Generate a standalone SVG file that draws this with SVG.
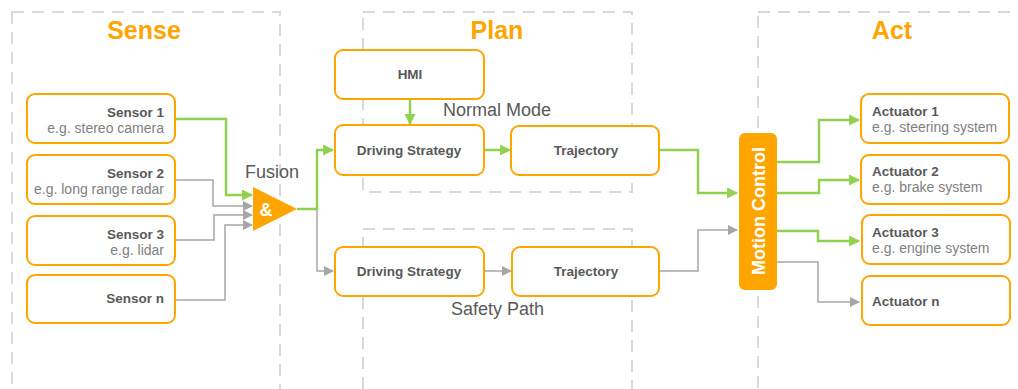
<svg xmlns="http://www.w3.org/2000/svg" width="1018" height="389" viewBox="0 0 1018 389">
  <defs>
    <style>
      .zone { fill: none; stroke: #D9D9D9; stroke-width: 2; stroke-dasharray: 12 8; }
      .title { font-family: "Liberation Sans", Arial, sans-serif; font-size: 25px; font-weight: bold; fill: #FFA500; text-anchor: middle; }
      .box { fill: #FFFFFF; stroke: #FFA500; stroke-width: 2; }
      .bold { font-family: "Liberation Sans", Arial, sans-serif; font-size: 13.5px; font-weight: bold; fill: #595959; }
      .sub { font-family: "Liberation Sans", Arial, sans-serif; font-size: 14px; fill: #7F7F7F; }
      .label { font-family: "Liberation Sans", Arial, sans-serif; font-size: 18px; fill: #595959; }
      .green { fill: none; stroke: #92D050; stroke-width: 2.5; marker-end: url(#arrowGreen); }
      .gray { fill: none; stroke: #A6A6A6; stroke-width: 1.5; marker-end: url(#arrowGray); }
      .r { text-anchor: end; }
      .c { text-anchor: middle; }
    </style>
    <marker id="arrowGreen" viewBox="0 0 10 10" refX="9" refY="5" markerWidth="4.4" markerHeight="4.4" markerUnits="strokeWidth" orient="auto">
      <path d="M0,0 L10,5 L0,10 Z" fill="#92D050"/>
    </marker>
    <marker id="arrowGray" viewBox="0 0 10 10" refX="9" refY="5" markerWidth="7" markerHeight="7" markerUnits="strokeWidth" orient="auto">
      <path d="M0,0 L10,5 L0,10 Z" fill="#A6A6A6"/>
    </marker>
  </defs>

  <!-- stage zones -->
  <g id="zones">
    <rect class="zone" x="12" y="12" width="268" height="378"/>
    <rect class="zone" x="363" y="12" width="269" height="180"/>
    <rect class="zone" x="363" y="229" width="269" height="161"/>
    <rect class="zone" x="758" y="12" width="270" height="378"/>
    <text class="title" x="144" y="39">Sense</text>
    <text class="title" x="497" y="39">Plan</text>
    <text class="title" x="892" y="39">Act</text>
  </g>

  <!-- connectors -->
  <g id="connectors">
    <path class="green" d="M175,119 H226 V195 H252"/>
    <path class="gray" d="M175,180 H213 V206 H252"/>
    <path class="gray" d="M175,240 H214 V215 H252"/>
    <path class="gray" d="M175,300 H225 V225 H252"/>
    <path class="gray" d="M317,209 V271 H333"/>
    <path class="green" d="M297,209 H317 V150 H333"/>
    <path class="green" d="M410,99 V124"/>
    <path class="green" d="M484,150 H510"/>
    <path class="gray" d="M484,271 H511"/>
    <path class="green" d="M659,150 H698 V193 H737"/>
    <path class="gray" d="M659,271 H698 V230 H737"/>
    <path class="green" d="M777,162 H819 V120 H859"/>
    <path class="green" d="M777,193 H819 V180 H859"/>
    <path class="green" d="M777,231 H818 V241 H859"/>
    <path class="gray" d="M777,262 H818 V302 H859"/>
  </g>

  <!-- Sense -->
  <g id="sensor1">
    <rect class="box" x="27" y="94" width="148" height="49" rx="8"/>
    <text class="bold r" x="164" y="117">Sensor 1</text>
    <text class="sub r" x="164" y="133">e.g. stereo camera</text>
  </g>
  <g id="sensor2">
    <rect class="box" x="27" y="155" width="148" height="49" rx="8"/>
    <text class="bold r" x="164" y="178">Sensor 2</text>
    <text class="sub r" x="164" y="194">e.g. long range radar</text>
  </g>
  <g id="sensor3">
    <rect class="box" x="27" y="216" width="148" height="49" rx="8"/>
    <text class="bold r" x="164" y="239">Sensor 3</text>
    <text class="sub r" x="164" y="255">e.g. lidar</text>
  </g>
  <g id="sensorN">
    <rect class="box" x="27" y="275" width="148" height="48" rx="8"/>
    <text class="bold r" x="164" y="303">Sensor n</text>
  </g>

  <g id="fusion">
    <text class="label" x="245" y="178">Fusion</text>
    <polygon points="253,187 297,209 253,231" fill="#FFA500"/>
    <text x="266" y="216" font-family="Liberation Sans, Arial, sans-serif" font-size="18" font-weight="bold" fill="#FFFFFF" text-anchor="middle">&amp;</text>
  </g>

  <!-- Plan -->
  <g id="hmi">
    <rect class="box" x="335" y="50" width="149" height="49" rx="8"/>
    <text class="bold c" x="410" y="79">HMI</text>
  </g>
  <text id="normal-mode" class="label" x="443" y="116">Normal Mode</text>
  <g id="strategy-normal">
    <rect class="box" x="335" y="125" width="149" height="50" rx="8"/>
    <text class="bold c" x="409" y="155">Driving Strategy</text>
  </g>
  <g id="trajectory-normal">
    <rect class="box" x="511" y="126" width="148" height="49" rx="8"/>
    <text class="bold c" x="586" y="155">Trajectory</text>
  </g>
  <g id="strategy-safety">
    <rect class="box" x="335" y="247" width="149" height="49" rx="8"/>
    <text class="bold c" x="409" y="276">Driving Strategy</text>
  </g>
  <g id="trajectory-safety">
    <rect class="box" x="512" y="247" width="147" height="49" rx="8"/>
    <text class="bold c" x="586" y="276">Trajectory</text>
  </g>
  <text id="safety-path" class="label" x="451" y="315">Safety Path</text>

  <!-- Act -->
  <g id="motion-control">
    <rect x="739" y="133" width="38" height="157" rx="6" fill="#FFA500"/>
    <text x="0" y="0" transform="translate(764.5,211) rotate(-90)" font-family="Liberation Sans, Arial, sans-serif" font-size="18" font-weight="bold" fill="#FFFFFF" text-anchor="middle">Motion Control</text>
  </g>
  <g id="actuator1">
    <rect class="box" x="861" y="94" width="148" height="49" rx="8"/>
    <text class="bold" x="872" y="116">Actuator 1</text>
    <text class="sub" x="872" y="132">e.g. steering system</text>
  </g>
  <g id="actuator2">
    <rect class="box" x="861" y="155" width="148" height="49" rx="8"/>
    <text class="bold" x="872" y="176">Actuator 2</text>
    <text class="sub" x="872" y="192">e.g. brake system</text>
  </g>
  <g id="actuator3">
    <rect class="box" x="862" y="215" width="148" height="49" rx="8"/>
    <text class="bold" x="872" y="237">Actuator 3</text>
    <text class="sub" x="872" y="253">e.g. engine system</text>
  </g>
  <g id="actuatorN">
    <rect class="box" x="862" y="276" width="148" height="49" rx="8"/>
    <text class="bold" x="872" y="306">Actuator n</text>
  </g>
</svg>
